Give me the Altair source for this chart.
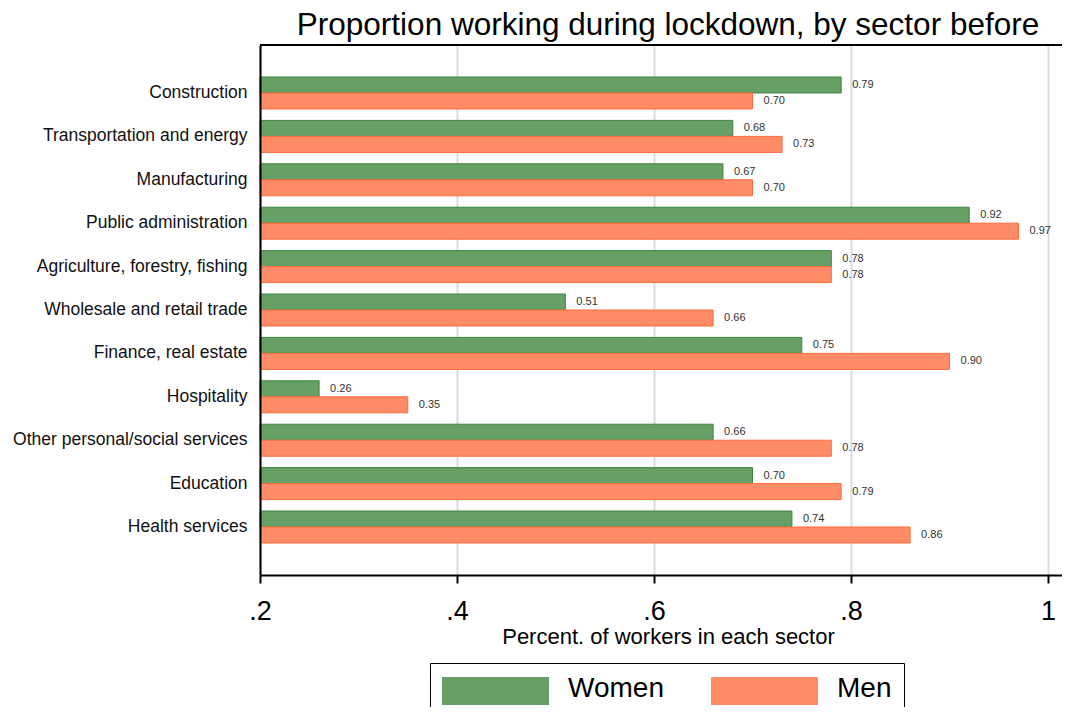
import altair as alt
import pandas as pd

sectors = [
    "Construction",
    "Transportation and energy",
    "Manufacturing",
    "Public administration",
    "Agriculture, forestry, fishing",
    "Wholesale and retail trade",
    "Finance, real estate",
    "Hospitality",
    "Other personal/social services",
    "Education",
    "Health services",
]
women = [0.79, 0.68, 0.67, 0.92, 0.78, 0.51, 0.75, 0.26, 0.66, 0.70, 0.74]
men = [0.70, 0.73, 0.70, 0.97, 0.78, 0.66, 0.90, 0.35, 0.78, 0.79, 0.86]
groups = ["Women", "Men"]
x_ticks = [0.2, 0.4, 0.6, 0.8, 1.0]

rows = []
for s, w, m in zip(sectors, women, men):
    rows.append({"sector": s, "sex": "Women", "value": w})
    rows.append({"sector": s, "sex": "Men", "value": m})
df = pd.DataFrame(rows)

FONT = "Liberation Sans"
fill_colors = ["#66a066", "#ff8c66"]
stroke_colors = ["#3f843f", "#ff6a3a"]

x_enc = alt.X(
    "value:Q",
    scale=alt.Scale(domain=[0.2, 1.0142], nice=False, zero=False),
    axis=alt.Axis(
        values=x_ticks,
        title="Percent. of workers in each sector",
        titleFontSize=22,
        titleFontWeight="normal",
        titleColor="black",
        titleFont=FONT,
        titleX=408,
        titleY=68,
        titleBaseline="alphabetic",
        labelExpr="datum.value == 1 ? '1' : replace(format(datum.value, '.1f'), '0.', '.')",
        labelFontSize=27,
        labelFont=FONT,
        labelColor="black",
        labelFlush=False,
        labelBaseline="alphabetic",
        labelPadding=36,
        tickSize=8,
        tickWidth=2,
        tickColor="black",
        domainColor="black",
        domainWidth=2,
        grid=True,
        gridColor="#dcdcdc",
        gridWidth=2,
        zindex=0,
    ),
)
y_enc = alt.Y(
    "sector:N",
    sort=sectors,
    scale=alt.Scale(domain=sectors, paddingInner=0.263, paddingOuter=0.737),
    axis=alt.Axis(
        title=None,
        ticks=False,
        labelFontSize=17.5,
        labelFont=FONT,
        labelColor="#111111",
        labelPadding=13,
        labelLimit=400,
        domainColor="black",
        domainWidth=2,
        grid=False,
        zindex=1,
    ),
)
yoff_enc = alt.YOffset(
    "sex:N",
    sort=groups,
    scale=alt.Scale(domain=groups, paddingInner=0, paddingOuter=0),
)

bars = alt.Chart(df).mark_bar(strokeWidth=1).encode(
    x=x_enc,
    x2=alt.datum(0.2),
    y=y_enc,
    yOffset=yoff_enc,
    fill=alt.Fill(
        "sex:N",
        sort=groups,
        scale=alt.Scale(domain=groups, range=fill_colors),
        legend=alt.Legend(
            title=None,
            orient="none",
            legendX=170,
            legendY=618,
            direction="horizontal",
            symbolType="M-14,-12H93V16H-14Z",
            symbolSize=4,
            symbolStrokeWidth=0,
            labelFontSize=28,
            labelFont=FONT,
            labelColor="black",
            labelOffset=98,
            columnPadding=47,
            padding=12,
            strokeColor="black",
        ),
    ),
    stroke=alt.Stroke(
        "sex:N",
        sort=groups,
        scale=alt.Scale(domain=groups, range=stroke_colors),
        legend=None,
    ),
)

labels = alt.Chart(df).mark_text(
    align="left", baseline="middle", dx=11, fontSize=11, font=FONT, color="#333333"
).encode(
    x="value:Q",
    y=alt.Y("sector:N", sort=sectors),
    yOffset=alt.YOffset("sex:N", sort=groups),
    text=alt.Text("value:Q", format=".2f"),
)

top_frame = alt.Chart(pd.DataFrame({"a": [0]})).mark_rule(
    color="black", strokeWidth=2
).encode(y=alt.value(0))

chart = (
    alt.layer(bars, labels, top_frame)
    .properties(
        width=802,
        height=530,
        autosize=alt.AutoSizeParams(type="none"),
        padding={"left": 252, "top": 37, "right": 0, "bottom": 132},
        title=alt.TitleParams(
            "Proportion working during lockdown, by sector before",
            fontSize=31.5,
            font=FONT,
            fontWeight="normal",
            color="black",
            anchor="middle",
            frame="group",
            offset=3,
            dx=7,
        ),
    )
    .configure_view(stroke=None)
    .configure(background="white")
)

chart.save("out.html", embed_options={"renderer": "svg", "actions": False})
